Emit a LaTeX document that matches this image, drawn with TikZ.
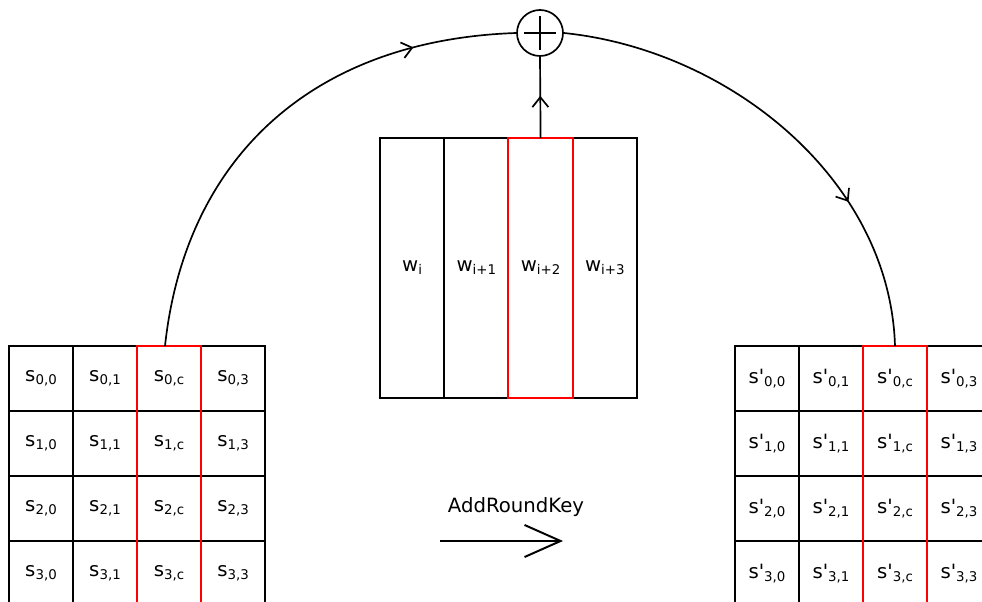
\documentclass[tikz,border=0pt]{standalone}
\usepackage{fontspec}
\setmainfont{DejaVu Sans}
\usetikzlibrary{arrows.meta,decorations.markings}

\newcommand{\lowidx}[1]{\raisebox{-0.3ex}{\fontsize{9.5}{10}\selectfont #1}}

\begin{document}
\begin{tikzpicture}[x=0.025cm,y=-0.025cm,font=\fontsize{14}{16}\selectfont,
  cell/.style={draw,line width=1.4pt,minimum width=1.6cm,minimum height=1.625cm,inner sep=0pt,outer sep=0pt},
  keycell/.style={draw,line width=1.4pt,minimum width=1.606cm,minimum height=6.5cm,inner sep=0pt,outer sep=0pt},
  redcol/.style={draw=red,line width=1.4pt},
  flow/.style={line width=1.2pt},
  midtip/.style={postaction={decorate,decoration={markings,
    mark=at position #1 with {\arrow{Straight Barb[length=2.5mm,width=4mm,line width=1.2pt]}}}}}]
  \useasboundingbox (0,0) rectangle (982,602);
  \clip (0,0) rectangle (982,602);

  % state before
  \foreach \r in {0,...,3}
    \foreach \c/\lab in {0/0,1/1,2/c,3/3}
      \node[cell] (s-\r-\c) at ({41+64*\c},{378.5+65*\r}) {s\lowidx{\r,\lab}};
  \draw[redcol] (s-0-2.north west) rectangle (s-3-2.south east);

  % state after
  \foreach \r in {0,...,3}
    \foreach \c/\lab in {0/0,1/1,2/c,3/3}
      \node[cell] (t-\r-\c) at ({767+64*\c},{378.5+65*\r}) {s\textquotesingle\lowidx{\r,\lab}};
  \draw[redcol] (t-0-2.north west) rectangle (t-3-2.south east);

  % round key words
  \foreach \k/\lab in {0/i,1/i+1,2/i+2,3/i+3}
    \node[keycell] (w-\k) at ({412.1+64.25*\k},268) {w\lowidx{\lab}};
  \draw[redcol] (w-2.north west) rectangle (w-2.south east);

  % xor
  \node[circle,draw,line width=1.2pt,minimum size=1.15cm,inner sep=0pt] (xor) at (540,33) {};
  \draw[line width=1.3pt] ([xshift=-0.4cm]xor.center) -- ([xshift=0.4cm]xor.center);
  \draw[line width=1.3pt] ([yshift=-0.43cm]xor.center) -- ([yshift=0.43cm]xor.center);

  \draw[flow,midtip=0.8] ([xshift=-0.1cm]s-0-2.north) .. controls (185,160) and (310,40) .. (xor.west);
  \draw[flow,midtip=0.69] (xor.east) .. controls (730,50) and (890,180) .. (t-0-2.north);
  \draw[flow,midtip=0.52] (w-2.north) -- (xor.south);

  % operation
  \node (ark) at (516,507) {AddRoundKey};
  \coordinate (ark-from) at (440,541);
  \coordinate (ark-to) at (563,541);
  \draw[line width=1.4pt,-{Straight Barb[length=0.9cm,width=0.8cm]}] (ark-from) -- (ark-to);
\end{tikzpicture}
\end{document}
